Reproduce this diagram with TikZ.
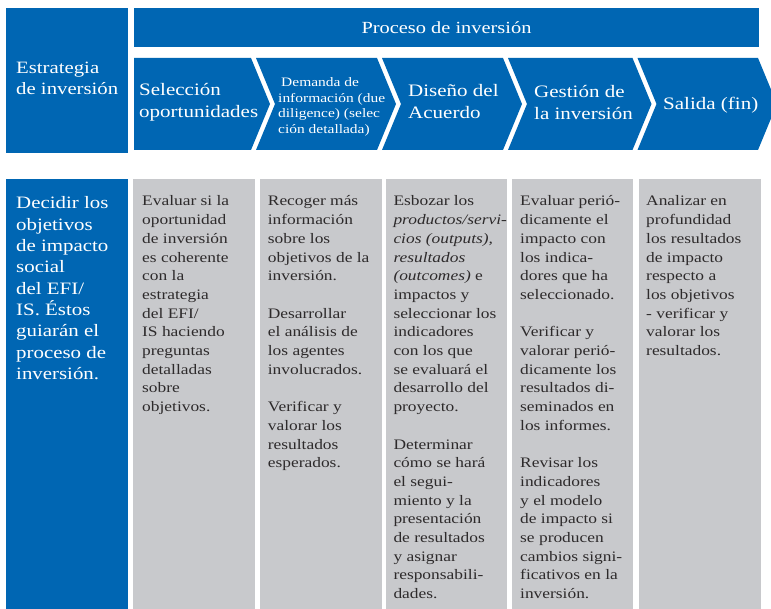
\documentclass[tikz,border=0pt]{standalone}
\usepackage{fontspec}
\setmainfont{Liberation Serif}[FakeStretch=1.2]
\usetikzlibrary{positioning}
\definecolor{efiblue}{RGB}{0,102,179}
\definecolor{efigrey}{RGB}{200,201,204}
\definecolor{efiink}{RGB}{45,42,43}
\tikzset{>=latex}
\newcommand{\renglones}[1]{\begin{tabular}[t]{@{}l@{}}#1\end{tabular}}

\begin{document}
\begin{tikzpicture}[x=1pt, y=-1pt,
	bluebox/.style={fill=efiblue},
	greybox/.style={fill=efigrey},
	headtext/.style={anchor=base west, inner sep=0pt, text=white, font=\fontsize{17.5}{22.3}\selectfont},
	smalltext/.style={anchor=base west, inner sep=0pt, text=white, font=\fontsize{12.9}{15.6}\selectfont},
	goaltext/.style={anchor=base west, inner sep=0pt, text=white, font=\fontsize{17.4}{21.3}\selectfont},
	celltext/.style={anchor=base west, inner sep=0pt, text=efiink, font=\fontsize{14.5}{18.7}\selectfont}]
	\useasboundingbox (0,0) rectangle (771,609);
	% cabecera
	\fill[bluebox] (6,8) rectangle (128,153);
	\fill[bluebox] (134,8) rectangle (759,47);
	\node[anchor=base, inner sep=0pt, text=white, font=\fontsize{17}{21}\selectfont] (proceso) at (446.5,34) {Proceso de inversión};
	\node[headtext, font=\fontsize{17.3}{21}\selectfont] (estrategia) at (16,74) {\renglones{Estrategia\\de inversión}};
	% flechas del proceso
	\fill[bluebox] (134,58) -- (251,58) -- (270,104) -- (251,150) -- (134,150) -- cycle;
	\foreach \l/\r in {256/377,382/503,508/632.5,637.5/758}
		\fill[bluebox] (\l,58) -- (\r,58) -- (\r+19,104) -- (\r,150) -- (\l,150) -- (\l+19,104) -- cycle;
	\node[headtext] (seleccion) at (139,95.7) {\renglones{Selección\\oportunidades}};
	\node[smalltext] (demanda) at (278,86.7) {\renglones{\hspace{3pt}Demanda de\\información (due\\diligence) (selec\\ción detallada)}};
	\node[headtext] (diseno) at (408,96.7) {\renglones{Diseño del\\Acuerdo}};
	\node[headtext] (gestion) at (534,97.7) {\renglones{Gestión de\\la inversión}};
	\node[headtext] (salida) at (663,110) {Salida (fin)};
	% columnas
	\fill[bluebox] (6,179) rectangle (128,609);
	\foreach \l/\r in {133/255,260/381.5,386/507,512/633,639/760.5}
		\fill[greybox] (\l,179) rectangle (\r,609);
	\node[goaltext] (objetivos) at (16,209) {\renglones{Decidir los\\objetivos\\de impacto\\social\\del EFI/\\IS. Éstos\\guiarán el\\proceso de\\inversión.}};
	\node[celltext] (evaluar) at (142,206) {\renglones{Evaluar si la\\oportunidad\\de inversión\\es coherente\\con la\\estrategia\\del EFI/\\IS haciendo\\preguntas\\detalladas\\sobre\\objetivos.}};
	\node[celltext] (recoger) at (267.7,206) {\renglones{Recoger más\\información\\sobre los\\objetivos de la\\inversión.\\[18.7pt]Desarrollar\\el análisis de\\los agentes\\involucrados.\\[18.7pt]Verificar y\\valorar los\\resultados\\esperados.}};
	\node[celltext] (esbozar) at (393.3,206) {\renglones{Esbozar los\\\textit{productos/servi-}\\\textit{cios (outputs),}\\\textit{resultados}\\\textit{(outcomes)} e\\impactos y\\seleccionar los\\indicadores\\con los que\\se evaluará el\\desarrollo del\\proyecto.\\[18.7pt]Determinar\\cómo se hará\\el segui-\\miento y la\\presentación\\de resultados\\y asignar\\responsabili-\\dades.}};
	\node[celltext] (gestionar) at (520,206) {\renglones{Evaluar perió-\\dicamente el\\impacto con\\los indica-\\dores que ha\\seleccionado.\\[18.7pt]Verificar y\\valorar perió-\\dicamente los\\resultados di-\\seminados en\\los informes.\\[18.7pt]Revisar los\\indicadores\\y el modelo\\de impacto si\\se producen\\cambios signi-\\ficativos en la\\inversión.}};
	\node[celltext] (analizar) at (646,206) {\renglones{Analizar en\\profundidad\\los resultados\\de impacto\\respecto a\\los objetivos\\- verificar y\\valorar los\\resultados.}};
\end{tikzpicture}
\end{document}
